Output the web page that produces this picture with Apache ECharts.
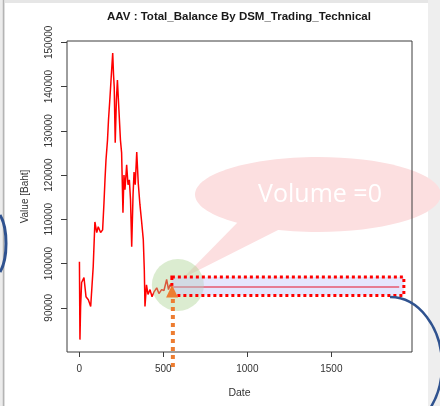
<!DOCTYPE html>
<html>
<head>
<meta charset="utf-8">
<script src="https://cdn.jsdelivr.net/npm/echarts@6/dist/echarts.min.js"></script>
<style>
  html, body { margin: 0; padding: 0; background: #ffffff; }
  #chart { width: 440px; height: 406px; }
</style>
</head>
<body>
<div id="chart"></div>
<script>
// Total balance of AAV traded by the DSM technical strategy, per trading day
const titleText = 'AAV : Total_Balance By DSM_Trading_Technical';
const dayIndex = [1, 4, 8, 14, 28, 40, 54, 68, 83, 93,
  104, 113, 127, 139, 147, 153, 159, 168, 174, 183,
  189, 199, 204, 208, 214, 221, 227, 232, 236, 245,
  252, 260, 266, 272, 282, 290, 298, 305, 312, 320,
  326, 333, 342, 351, 361, 370, 381, 387, 391, 400,
  409, 421, 433, 445, 461, 474, 490, 504, 520, 531,
  540, 549, 557, 1904];
const totalBalance = [100400, 82800, 90300, 95700, 96800, 92500, 91800, 90300, 99300, 109400,
  107000, 108300, 107000, 107600, 113700, 118900, 123400, 127900, 132500, 137700,
  141500, 147600, 142600, 139900, 127300, 137000, 141500, 141900, 134700, 127900,
  125000, 111500, 120000, 116700, 122300, 117800, 118900, 114400, 103800, 115500,
  120700, 117800, 125200, 118200, 113300, 109900, 105400, 98600, 90300, 95200,
  93000, 94100, 92500, 93600, 94500, 93200, 94100, 93900, 96400, 94100,
  95200, 94700, 94700, 94700];
const xTicks = [0, 500, 1000, 1500];
const yTicks = [90000, 100000, 110000, 120000, 130000, 140000, 150000];
const xName = 'Date';
const yName = 'Value [Baht]';

// From this day on there is no more trading volume and the balance stays flat
const volumeZeroDay = 557;
const flatBalance = 94700;
const calloutText = 'Volume =0';

const FONT = '"Liberation Sans", Arial, Helvetica, sans-serif';
const chart = echarts.init(document.getElementById('chart'), null, { renderer: 'canvas' });

const option = {
  animation: false,
  backgroundColor: '#ffffff',
  title: {
    text: titleText,
    left: 239,
    top: 11,
    padding: 0,
    textAlign: 'center',
    textStyle: { fontFamily: FONT, fontSize: 11.5, fontWeight: 'bold', color: '#1a1a1a' }
  },
  grid: {
    left: 67, top: 41, width: 345, height: 311,
    show: true, borderColor: '#3c3c3c', borderWidth: 1,
    outerBoundsMode: 'none'
  },
  xAxis: {
    type: 'value',
    min: -73, max: 1980,
    name: xName, nameLocation: 'middle', nameGap: 36, nameMoveOverlap: false,
    nameTextStyle: { fontFamily: FONT, fontSize: 10.5, color: '#333' },
    axisLine: { show: false, onZero: false },
    axisTick: { show: true, customValues: xTicks, length: 5, lineStyle: { color: '#3c3c3c' } },
    axisLabel: { customValues: xTicks, fontFamily: FONT, fontSize: 10, color: '#333', margin: 12,
                 formatter: v => String(v) },
    splitLine: { show: false }
  },
  yAxis: {
    type: 'value',
    min: 80000, max: 150300,
    name: yName, nameLocation: 'middle', nameGap: 37, nameRotate: 90, nameMoveOverlap: false,
    nameTextStyle: { fontFamily: FONT, fontSize: 10, color: '#333' },
    axisLine: { show: false, onZero: false },
    axisTick: { show: true, customValues: yTicks, length: 6, lineStyle: { color: '#3c3c3c' } },
    axisLabel: { customValues: yTicks, rotate: 90, fontFamily: FONT, fontSize: 10, color: '#333', margin: 13,
                 formatter: v => String(v) },
    splitLine: { show: false }
  },
  series: [{
    type: 'line',
    data: dayIndex.map((d, i) => [d, totalBalance[i]]),
    symbol: 'none',
    lineStyle: { color: '#ff0000', width: 1.5 },
    z: 2
  }]
};
chart.setOption(option);

const [ax, ay] = chart.convertToPixel({ gridIndex: 0 }, [volumeZeroDay, flatBalance]);

chart.setOption({
  graphic: {
    elements: [
      // slide frame around the figure
      { type: 'rect', shape: { x: 0, y: 0, width: 440, height: 3 }, style: { fill: '#e6e6e6' }, z: -20, silent: true },
      { type: 'rect', shape: { x: 428, y: 0, width: 12, height: 406 }, style: { fill: '#eeeeee' }, z: -20, silent: true },
      { type: 'rect', shape: { x: 0, y: 0, width: 5, height: 406 }, style: { fill: '#ececec' }, z: -20, silent: true },
      { type: 'line', shape: { x1: 3.5, y1: 0, x2: 3.5, y2: 406 }, style: { stroke: '#b4b4b4', lineWidth: 1.5 }, z: -19, silent: true },

      // speech bubble
      { type: 'ellipse', shape: { cx: 318, cy: 194.5, rx: 123, ry: 37.5 }, style: { fill: '#fcdfe0' }, z: -5, silent: true },
      { type: 'polygon', shape: { points: [[238, 222], [286, 226], [183, 278]] }, style: { fill: '#fcdfe0' }, z: -5, silent: true },
      { type: 'text', x: 320, y: 195, style: { text: calloutText, fill: '#ffffff', font: '25px "Open Sans"', align: 'center', verticalAlign: 'middle' }, z: -4, silent: true },

      // highlight of the point where trading stops
      { type: 'circle', shape: { cx: ax + 5, cy: ay - 2, r: 26 }, style: { fill: 'rgba(169,209,142,0.42)' }, z: 5, silent: true },
      { type: 'rect', shape: { x: ax - 1, y: ay - 10, width: 232, height: 18.5 },
        style: { fill: 'rgba(200,200,250,0.45)', stroke: '#ff0000', lineWidth: 3, lineDash: [3, 3] }, z: 6, silent: true },
      { type: 'polygon', shape: { points: [[ax - 0.8, ay - 2], [ax - 6.8, ay + 10.5], [ax + 5.2, ay + 10.5]] },
        style: { fill: '#ed7d31' }, z: 7, silent: true },
      { type: 'line', shape: { x1: ax, y1: ay + 12, x2: ax, y2: 371 },
        style: { stroke: '#ed7d31', lineWidth: 4, lineDash: [4, 4] }, z: 7, silent: true },

      // blue outline strokes
      { type: 'bezierCurve', shape: { x1: 390, y1: 297, cpx1: 418.7, cpy1: 297, cpx2: 442, cpy2: 327.4, x2: 442, y2: 365 },
        style: { stroke: '#2f528f', lineWidth: 2.5, fill: 'none' }, z: 8, silent: true },
      { type: 'bezierCurve', shape: { x1: 442, y1: 365, cpx1: 442, cpy1: 402.6, cpx2: 418.7, cpy2: 433, x2: 390, y2: 433 },
        style: { stroke: '#2f528f', lineWidth: 2.5, fill: 'none' }, z: 8, silent: true },
      { type: 'bezierCurve', shape: { x1: 0, y1: 215, cpx1: 8, cpy1: 228, cpx2: 8, cpy2: 259, x2: 0, y2: 272 },
        style: { stroke: '#2f528f', lineWidth: 3, fill: 'none' }, z: 8, silent: true }
    ]
  }
});
</script>
</body>
</html>
